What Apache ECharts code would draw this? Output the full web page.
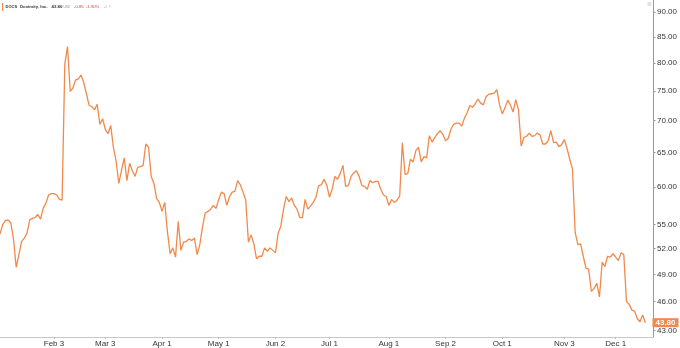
<!DOCTYPE html>
<html><head><meta charset="utf-8">
<script src="https://cdn.jsdelivr.net/npm/echarts@6/dist/echarts.min.js"></script>
<style>html,body{margin:0;padding:0;background:#fff}#c{width:680px;height:348px}</style>
</head><body><div id="c"></div>
<script>
// Market holidays (2025) excluded from the trading-day categories
const holidays = ['2025-01-09','2025-01-20','2025-02-17','2025-04-18','2025-05-26','2025-06-19','2025-07-04','2025-09-01','2025-11-27'];
const firstDay = '2025-01-02';
const lastDay = '2025-12-19';
const tickDates = ['2025-02-03','2025-03-03','2025-04-01','2025-05-01','2025-06-02','2025-07-01','2025-08-01','2025-09-02','2025-10-01','2025-11-03','2025-12-01'];
const tickLabels = ['Feb 3','Mar 3','Apr 1','May 1','Jun 2','Jul 1','Aug 1','Sep 2','Oct 1','Nov 3','Dec 1'];
const priceTicks = [43,46,49,52,55,60,65,70,75,80,85,90];
const prices = [
53.8,55.0,55.5,55.6,55.2,53.2,49.8,51.3,52.9,53.3,
53.9,55.6,55.8,55.9,56.3,55.7,57.1,57.8,58.9,59.1,
59.1,58.9,58.3,58.2,79.8,83.1,74.9,75.5,76.9,77.1,
77.8,76.5,74.5,72.5,72.3,71.8,72.7,69.4,70.3,68.6,
67.9,69.2,65.8,63.7,60.5,62.4,64.2,60.9,63.4,62.3,
61.5,62.8,62.9,63.1,66.3,65.8,61.5,60.5,58.4,57.9,
56.7,57.9,54.1,51.4,52.1,51.0,55.4,51.8,52.8,52.9,
53.2,53.0,53.3,51.3,52.5,54.7,56.5,56.7,57.0,57.5,
57.1,58.3,59.3,59.1,57.5,58.7,59.3,59.4,60.9,60.3,
59.3,58.2,52.8,53.7,52.6,50.8,51.1,51.1,52.1,51.7,
52.1,51.8,51.5,53.9,54.8,57.0,58.7,58.0,58.5,57.5,
57.0,55.9,55.9,58.3,57.0,57.4,57.9,58.6,60.2,60.3,
61.1,60.3,58.6,59.7,61.5,61.1,61.9,63.1,60.1,60.2,
61.5,62.0,62.3,61.5,60.2,60.1,59.7,60.9,60.6,60.8,
60.8,59.7,58.9,58.7,57.5,58.3,57.9,58.2,58.7,66.5,
61.8,61.9,64.0,63.6,65.3,65.8,63.6,64.4,64.2,67.6,
66.6,67.3,67.9,68.4,67.8,66.8,67.2,68.6,69.4,69.6,
69.6,69.1,70.4,71.3,72.5,72.2,72.8,73.6,72.9,72.6,
74.0,74.4,74.5,74.6,75.2,72.6,71.1,72.1,73.4,72.6,
71.4,73.5,71.8,66.0,67.3,67.5,68.0,67.5,67.6,68.0,
67.7,66.3,66.3,66.8,68.4,66.5,66.6,65.9,66.2,67.0,
65.6,64.0,62.6,54.0,52.5,52.6,51.1,49.7,49.6,47.1,
47.4,48.0,46.5,50.4,49.9,51.1,51.0,51.4,51.0,50.6,
51.5,51.3,46.0,45.7,45.1,45.0,44.2,43.9,44.6,43.8
];
const lastPrice = 43.80;

// build trading-day categories
const dates = [];
(function(){
  const d = new Date(firstDay + 'T00:00:00Z');
  const end = new Date(lastDay + 'T00:00:00Z');
  while (d <= end) {
    const wd = d.getUTCDay();
    const s = d.toISOString().slice(0,10);
    if (wd !== 0 && wd !== 6 && holidays.indexOf(s) < 0) dates.push(s);
    d.setUTCDate(d.getUTCDate() + 1);
  }
})();
const tickMap = {};
tickDates.forEach((d,i)=>{ tickMap[d] = tickLabels[i]; });

const FONT = 'Liberation Sans';
const ORANGE = '#F0894B';
function txt(x, text, size, weight, color, dy) {
  return {type: 'text', x: x, y: 7 + (dy || 0), style: {text: text, fontSize: size, fontWeight: weight,
    fontFamily: FONT, fill: color, verticalAlign: 'middle', align: 'left'}};
}
const chart = echarts.init(document.getElementById('c'), null, {renderer:'canvas'});
chart.setOption({
  animation: false,
  backgroundColor: '#fff',
  grid: {left: 0, right: 24.5, top: 0, bottom: 10, containLabel: false},
  xAxis: {
    type: 'category', data: dates, boundaryGap: false,
    axisLine: {show: true, lineStyle: {color: '#c8c8c8', width: 1}},
    axisTick: {show: true, length: 2, interval: (i, v) => tickMap[v] !== undefined, lineStyle: {color: '#bbb'}},
    axisLabel: {show: true, interval: (i, v) => tickMap[v] !== undefined, formatter: v => tickMap[v] || '',
      fontFamily: FONT, fontSize: 8, color: '#333', margin: 3},
    splitLine: {show: false}
  },
  yAxis: {
    type: 'log', logBase: 10, position: 'right', min: 42.37, max: 92.6,
    axisLine: {show: true, lineStyle: {color: '#999', width: 1}},
    axisTick: {show: true, length: 2, inside: false, customValues: priceTicks, lineStyle: {color: '#999'}},
    axisLabel: {show: true, customValues: priceTicks, formatter: v => Number(v).toFixed(2),
      fontFamily: FONT, fontSize: 8, color: '#333', margin: 3.5},
    splitLine: {show: false}
  },
  series: [{
    type: 'line', data: prices, showSymbol: false, symbol: 'none',
    lineStyle: {color: ORANGE, width: 1.3},
    markLine: {
      silent: true, symbol: 'none',
      lineStyle: {color: 'rgba(0,0,0,0)', width: 0, opacity: 1},
      data: [{yAxis: lastPrice}],
      label: {show: true, position: 'end', distance: -1, formatter: () => lastPrice.toFixed(2),
        backgroundColor: ORANGE, color: '#fff', fontFamily: FONT, fontSize: 8, fontWeight: 'bold',
        padding: [1, 3, 0, 3], opacity: 1}
    }
  }],
  graphic: [
    {type: 'rect', shape: {x: 2, y: 3, width: 1.2, height: 8}, style: {fill: ORANGE}},
    txt(5.5, 'DOCS', 4, 'bold', '#333'),
    txt(20, 'Doximity, Inc.', 4.3, 'bold', '#333'),
    txt(51.5, '43.80', 4.4, 'bold', '#333'),
    txt(63.5, 'USD', 3, 'normal', '#888', 0.5),
    txt(74, '-0.85', 4.2, 'normal', '#e0443c'),
    txt(86, '-1.90%', 4.2, 'normal', '#e0443c'),
    txt(103, '⊿', 4.5, 'normal', '#c4c4c4'),
    txt(108.5, '×', 4.5, 'normal', '#c4c4c4'),
    {type: 'rect', shape: {x: 647.5, y: 2, width: 4, height: 4}, style: {fill: '#e2e2e2'}}
  ]
});
</script>
</body></html>
